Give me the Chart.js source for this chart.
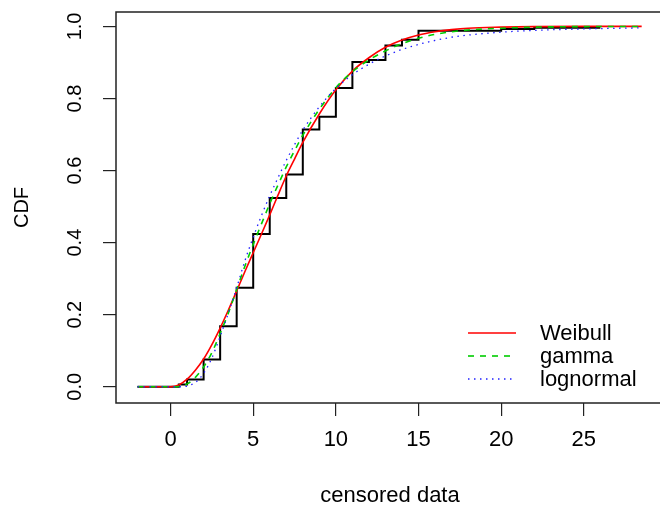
<!DOCTYPE html>
<html>
<head>
<meta charset="utf-8">
<title>CDF</title>
<script src="https://cdn.jsdelivr.net/npm/chart.js@4.4.1/dist/chart.umd.min.js"></script>
<style>
html,body{margin:0;padding:0;background:#fff;overflow:hidden;}
#wrap{position:absolute;left:0;top:0;width:664px;height:508px;}
</style>
</head>
<body>
<div id="wrap"><canvas id="cdfCanvas" width="664" height="508"></canvas></div>
<script>
(function(){
'use strict';

var FONT = '"Liberation Sans", Arial, Helvetica, sans-serif';

// empirical CDF of the censored sample: value reached after each jump
var stepX = [-2, 0.5, 1, 2, 3, 4, 5, 6, 7, 8, 9, 10, 11, 12, 13, 14, 15, 20, 22, 26];
var stepY = [0, 0.006, 0.02, 0.076, 0.168, 0.275, 0.424, 0.524, 0.589, 0.714, 0.749, 0.829, 0.901, 0.907, 0.947, 0.963, 0.988, 0.993, 0.996, 0.996];

// fitted distributions, read at these x positions
var curveX    = [-2, -1, 0, 0.5, 1, 1.5, 2, 2.5, 3, 3.5, 4, 4.5, 5, 5.5, 6, 6.5, 7, 7.5, 8, 9, 10, 11, 12, 13, 14, 15, 16, 17, 18, 20, 22, 25, 28.5];
var weibullY  = [0, 0, 0, 0.005, 0.021, 0.046, 0.077, 0.117, 0.163, 0.213, 0.266, 0.32, 0.372, 0.424, 0.477, 0.532, 0.585, 0.632, 0.678, 0.757, 0.824, 0.876, 0.913, 0.942, 0.962, 0.976, 0.985, 0.991, 0.995, 0.998, 0.9995, 1, 1];
var gammaY    = [0, 0, 0, 0.001, 0.008, 0.026, 0.055, 0.095, 0.148, 0.205, 0.27, 0.335, 0.395, 0.452, 0.508, 0.56, 0.61, 0.655, 0.698, 0.77, 0.83, 0.874, 0.907, 0.932, 0.952, 0.967, 0.978, 0.985, 0.99, 0.995, 0.998, 0.9995, 1];
var lognormY  = [0, 0, 0, 0, 0.002, 0.012, 0.037, 0.08, 0.14, 0.205, 0.275, 0.35, 0.415, 0.475, 0.53, 0.58, 0.628, 0.672, 0.712, 0.777, 0.828, 0.866, 0.895, 0.918, 0.936, 0.95, 0.961, 0.97, 0.976, 0.984, 0.989, 0.993, 0.996];

var seriesNames = ['Weibull', 'gamma', 'lognormal'];
var xTicks = [0, 5, 10, 15, 20, 25];
var yTicks = [0, 0.2, 0.4, 0.6, 0.8, 1];

function points(xs, ys) {
  return xs.map(function(x, i){ return {x:x, y:ys[i]}; });
}

// box round the plot, rotated y labels and the line legend
var framePlugin = {
  id: 'frame',
  afterDraw: function(chart) {
    var ctx = chart.ctx, a = chart.chartArea, ys = chart.scales.y;
    ctx.save();
    ctx.strokeStyle = '#222';
    ctx.lineWidth = 1.5;
    ctx.strokeRect(a.left, a.top, a.right - a.left, a.bottom - a.top);

    ctx.fillStyle = '#000';
    ctx.font = '20px ' + FONT;
    ctx.textAlign = 'center';
    ctx.textBaseline = 'middle';
    ys.ticks.forEach(function(t){
      ctx.save();
      ctx.translate(75, ys.getPixelForValue(t.value));
      ctx.rotate(-Math.PI/2);
      ctx.fillText(t.value.toFixed(1), 0, 0);
      ctx.restore();
    });

    ctx.font = '22px ' + FONT;
    ctx.textAlign = 'left';
    seriesNames.forEach(function(name, i){
      var ds = chart.data.datasets[i];
      var y = 333 + i*23;
      ctx.save();
      ctx.strokeStyle = ds.borderColor;
      ctx.lineWidth = ds.borderWidth;
      ctx.setLineDash(ds.borderDash || []);
      ctx.beginPath();
      ctx.moveTo(468, y);
      ctx.lineTo(516, y);
      ctx.stroke();
      ctx.restore();
      ctx.fillText(name, 540, y + 1);
    });
    ctx.restore();
  }
};

var ctx = document.getElementById('cdfCanvas').getContext('2d');
new Chart(ctx, {
  type: 'line',
  data: {
    datasets: [
      {label:seriesNames[0], data:points(curveX, weibullY), borderColor:'#ff0000', borderWidth:1.6,
       pointRadius:0, cubicInterpolationMode:'monotone', fill:false, order:3},
      {label:seriesNames[1], data:points(curveX, gammaY), borderColor:'#00cd00', borderWidth:1.6,
       borderDash:[6,6], pointRadius:0, cubicInterpolationMode:'monotone', fill:false, order:2},
      {label:seriesNames[2], data:points(curveX, lognormY), borderColor:'#2020ff', borderWidth:1.3,
       borderDash:[1.5,4.5], pointRadius:0, cubicInterpolationMode:'monotone', fill:false, order:1},
      {label:'empirical', data:points(stepX, stepY), borderColor:'#000', borderWidth:2,
       stepped:'before', pointRadius:0, fill:false, order:4}
    ]
  },
  options: {
    responsive: false,
    animation: false,
    layout: {padding:{top:12, right:0, bottom:0, left:0}},
    plugins: {legend:{display:false}, tooltip:{enabled:false}},
    scales: {
      x: {
        type: 'linear',
        min: -3.30,
        max: 29.85,
        afterBuildTicks: function(s){ s.ticks = xTicks.map(function(v){ return {value:v}; }); },
        afterFit: function(s){ s.height = 105; },
        ticks: {autoSkip:false, maxRotation:0, padding:11, color:'#000',
                font:{family:FONT, size:22},
                callback: function(v){ return String(v); }},
        grid: {drawOnChartArea:false, drawTicks:true, tickLength:13, color:'#222', lineWidth:1.2},
        border: {display:false},
        title: {display:true, text:'censored data', color:'#000',
                font:{family:FONT, size:22, lineHeight:1}, padding:{top:0, bottom:1}}
      },
      y: {
        type: 'linear',
        min: -0.045,
        max: 1.04,
        afterBuildTicks: function(s){ s.ticks = yTicks.map(function(v){ return {value:v}; }); },
        afterFit: function(s){ s.width = 116; },
        ticks: {display:false},
        grid: {drawOnChartArea:false, drawTicks:true, tickLength:13, color:'#222', lineWidth:1.2},
        border: {display:false},
        title: {display:true, text:'CDF', color:'#000',
                font:{family:FONT, size:20, lineHeight:1.2}, padding:{top:10.5, bottom:0}}
      }
    }
  },
  plugins: [framePlugin]
});

})();
</script>
</body>
</html>
